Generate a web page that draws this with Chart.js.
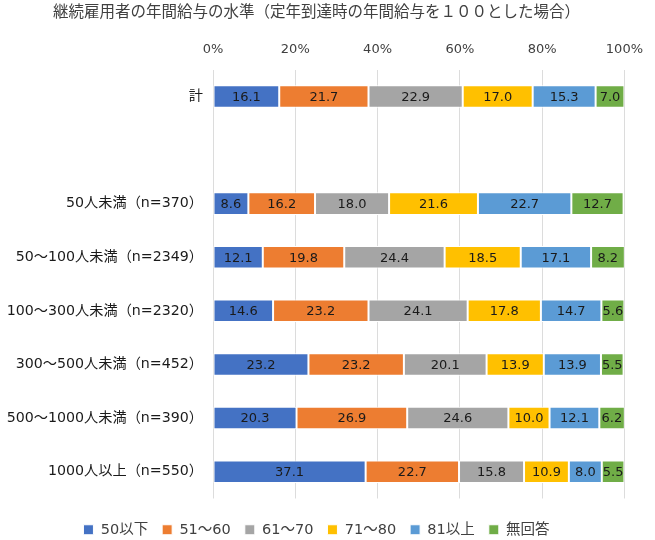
<!DOCTYPE html>
<html>
<head>
<meta charset="utf-8">
<script src="https://cdn.jsdelivr.net/npm/chart.js@4/dist/chart.umd.min.js"></script>
<style>
  html, body { margin: 0; padding: 0; background: #fff; }
  #wrap { width: 655px; height: 540px; }
</style>
</head>
<body>
<div id="wrap"><canvas id="grafico"></canvas></div>
<script>
const categorias = [
    '計',
    '',
    '50人未満（n=370）',
    '50～100人未満（n=2349）',
    '100～300人未満（n=2320）',
    '300～500人未満（n=452）',
    '500～1000人未満（n=390）',
    '1000人以上（n=550）'
];
const serieNomes = ['50以下', '51～60', '61～70', '71～80', '81以上', '無回答'];
const ate50   = [16.1, null, 8.6, 12.1, 14.6, 23.2, 20.3, 37.1];
const de51a60 = [21.7, null, 16.2, 19.8, 23.2, 23.2, 26.9, 22.7];
const de61a70 = [22.9, null, 18.0, 24.4, 24.1, 20.1, 24.6, 15.8];
const de71a80 = [17.0, null, 21.6, 18.5, 17.8, 13.9, 10.0, 10.9];
const acima81 = [15.3, null, 22.7, 17.1, 14.7, 13.9, 12.1, 8.0];
const semResp = [7.0, null, 12.7, 8.2, 5.6, 5.5, 6.2, 5.5];
const ticksX = [0, 20, 40, 60, 80, 100];

const cores = ['#4472C4', '#ED7D31', '#A5A5A5', '#FFC000', '#5B9BD5', '#70AD47'];
const series = [ate50, de51a60, de61a70, de71a80, acima81, semResp];
const fonte = 'Verdana, "DejaVu Sans", "Noto Sans CJK JP", sans-serif';

// rótulos dentro das barras
const rotulos = {
    id: 'rotulos',
    afterDatasetsDraw(chart) {
        const ctx = chart.ctx;
        ctx.save();
        ctx.font = '13px ' + fonte;
        ctx.fillStyle = '#1a1a1a';
        ctx.textAlign = 'center';
        ctx.textBaseline = 'middle';
        chart.data.datasets.forEach((ds, i) => {
            chart.getDatasetMeta(i).data.forEach((bar, j) => {
                const v = ds.data[j];
                if (v === null || v === undefined) return;
                const x0 = Math.min(bar.base, chart.chartArea.right);
                const x1 = Math.min(bar.x, chart.chartArea.right);
                ctx.fillText(v.toFixed(1), (x0 + x1) / 2, bar.y + 1);
            });
        });
        ctx.restore();
    }
};

// desce a legenda um pouco, sem mexer na área do gráfico
const legendaAbaixo = {
    id: 'legendaAbaixo',
    afterLayout(chart) {
        if (chart.legend) {
            chart.legend.top += 10;
            chart.legend.bottom += 10;
        }
    }
};

document.addEventListener('DOMContentLoaded', () => {
    const ctx = document.getElementById('grafico').getContext('2d');
    new Chart(ctx, {
        type: 'bar',
        data: {
            labels: categorias,
            datasets: serieNomes.map((nome, i) => ({
                label: nome,
                data: series[i],
                backgroundColor: cores[i],
                borderColor: '#ffffff',
                borderWidth: 1,
                borderSkipped: false,
                barPercentage: 0.42,
                categoryPercentage: 1
            }))
        },
        options: {
            indexAxis: 'y',
            responsive: true,
            maintainAspectRatio: false,
            animation: false,
            layout: { padding: { left: 0, right: 22, top: 0, bottom: 3 } },
            scales: {
                x: {
                    position: 'top',
                    stacked: true,
                    min: 0,
                    max: 100,
                    afterBuildTicks: (axis) => { axis.ticks = ticksX.map(v => ({ value: v })); },
                    afterFit: (axis) => { axis.height = 47; },
                    ticks: {
                        callback: v => v + '%',
                        color: '#404040',
                        font: { size: 13, family: fonte },
                        padding: 12
                    },
                    grid: { color: '#dcdcdc', drawTicks: false },
                    border: { display: false }
                },
                y: {
                    stacked: true,
                    afterFit: (axis) => { axis.width = 213; },
                    ticks: {
                        color: '#1a1a1a',
                        font: { size: 14.2, family: fonte },
                        padding: 2
                    },
                    grid: { display: false },
                    border: { display: false }
                }
            },
            plugins: {
                title: {
                    display: true,
                    text: '継続雇用者の年間給与の水準（定年到達時の年間給与を１００とした場合）',
                    color: '#404040',
                    font: { size: 15.5, weight: 'normal', family: fonte },
                    padding: { top: 4, bottom: 0 }
                },
                legend: {
                    position: 'bottom',
                    labels: {
                        color: '#404040',
                        font: { size: 14.5, family: fonte },
                        boxWidth: 10,
                        boxHeight: 10,
                        padding: 14
                    }
                },
                tooltip: { enabled: false }
            }
        },
        plugins: [rotulos, legendaAbaixo]
    });
});
</script>
</body>
</html>
